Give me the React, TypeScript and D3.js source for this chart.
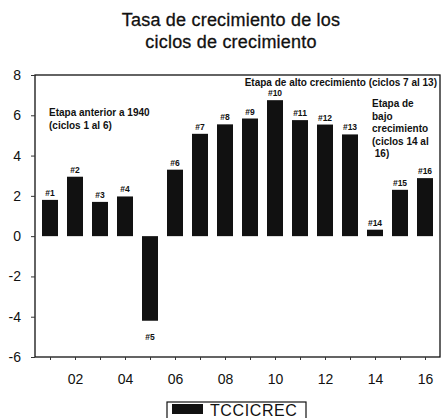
import { useRef, useEffect } from 'react';
import * as d3 from 'd3';

const FONT = '"Liberation Sans", Arial, Helvetica, sans-serif';
const BAR_COLOR = '#111';

const cycles = [1, 2, 3, 4, 5, 6, 7, 8, 9, 10, 11, 12, 13, 14, 15, 16];
const values = [1.8, 2.95, 1.7, 1.97, -4.2, 3.3, 5.08, 5.55, 5.84, 6.75, 5.76, 5.54, 5.05, 0.32, 2.3, 2.88];
const xTicks = [2, 4, 6, 8, 10, 12, 14, 16];
const yTicks = [-6, -4, -2, 0, 2, 4, 6, 8];
const seriesName = 'TCCICREC';

const titleLines = ['Tasa de crecimiento de los', 'ciclos de crecimiento'];
const noteEarly = ['Etapa anterior a 1940', '(ciclos 1 al 6)'];
const noteHigh = ['Etapa de alto crecimiento (ciclos 7 al 13)'];
const noteLow = ['Etapa de', 'bajo', 'crecimiento', '(ciclos 14 al', ' 16)'];

const W = 442;
const H = 418;

const Chart = () => {
  const svgRef = useRef(null);

  useEffect(() => {
    const svg = d3.select(svgRef.current);
    svg.selectAll('*').remove();

    const left = 35;
    const right = 440;
    const top = 75;
    const bottom = 357;

    const x = d3.scaleLinear().domain([0.4, 16.6]).range([left, right]);
    const y = d3.scaleLinear().domain([-6, 8]).range([bottom, top]);
    const barW = x(0.64) - x(0);

    // title
    svg
      .selectAll('text.title')
      .data(titleLines)
      .join('text')
      .attr('x', 231)
      .attr('y', (d, i) => 26 + i * 22)
      .attr('text-anchor', 'middle')
      .attr('font-family', FONT)
      .attr('font-size', 18)
      .attr('letter-spacing', 0.2)
      .attr('fill', '#111')
      .attr('stroke', '#111')
      .attr('stroke-width', 0.3)
      .text((d) => d);

    // bars
    svg
      .selectAll('rect.bar')
      .data(values)
      .join('rect')
      .attr('x', (d, i) => x(cycles[i]) - barW / 2)
      .attr('y', (d) => y(Math.max(0, d)))
      .attr('width', barW)
      .attr('height', (d) => Math.abs(y(d) - y(0)))
      .attr('fill', BAR_COLOR);

    // bar labels
    svg
      .selectAll('text.lbl')
      .data(values)
      .join('text')
      .attr('x', (d, i) => x(cycles[i]))
      .attr('y', (d) => (d >= 0 ? y(d) - 4 : y(d) + 19))
      .attr('text-anchor', 'middle')
      .attr('font-family', FONT)
      .attr('font-size', 8.5)
      .attr('font-weight', 'bold')
      .attr('fill', '#111')
      .text((d, i) => `#${cycles[i]}`);

    // frame
    svg
      .append('rect')
      .attr('x', left)
      .attr('y', top)
      .attr('width', right - left)
      .attr('height', bottom - top)
      .attr('fill', 'none')
      .attr('stroke', '#111')
      .attr('stroke-width', 1.3);

    // y axis
    const yAxis = svg
      .append('g')
      .attr('transform', `translate(${left},0)`)
      .call(
        d3
          .axisLeft(y)
          .tickValues(yTicks)
          .tickSize(4)
          .tickPadding(10)
          .tickFormat((d) => String(d))
      );
    yAxis.select('.domain').remove();
    yAxis.selectAll('line').attr('stroke', '#333');
    yAxis.selectAll('text').attr('font-family', FONT).attr('font-size', 14).attr('fill', '#111');

    // x axis
    const xAxis = svg
      .append('g')
      .attr('transform', `translate(0,${bottom})`)
      .call(
        d3
          .axisBottom(x)
          .tickValues(cycles)
          .tickSize(3)
          .tickPadding(14)
          .tickFormat((d) => (xTicks.includes(d) ? d3.format('02d')(d) : ''))
      );
    xAxis.select('.domain').remove();
    xAxis.selectAll('line').attr('stroke', '#333');
    xAxis.selectAll('text').attr('font-family', FONT).attr('font-size', 14).attr('fill', '#111');

    // notes
    const note = (lines, x0, y0, lh, anchor) => {
      svg
        .append('g')
        .selectAll('text')
        .data(lines)
        .join('text')
        .attr('x', x0)
        .attr('y', (d, i) => y0 + i * lh)
        .attr('text-anchor', anchor)
        .attr('font-family', FONT)
        .attr('font-size', 10)
        .attr('font-weight', 'bold')
        .attr('fill', '#111')
        .style('white-space', 'pre')
        .text((d) => d);
    };
    note(noteEarly, 49, 116, 13, 'start');
    note(noteHigh, 437, 86, 12, 'end');
    note(noteLow, 372, 107, 12.5, 'start');

    // legend
    const lg = svg.append('g');
    lg.append('rect')
      .attr('x', 167)
      .attr('y', 402)
      .attr('width', 139)
      .attr('height', 24)
      .attr('fill', 'white')
      .attr('stroke', '#111')
      .attr('stroke-width', 1.2);
    lg.append('rect').attr('x', 172).attr('y', 404).attr('width', 31).attr('height', 10).attr('fill', BAR_COLOR);
    lg.append('text')
      .attr('x', 210)
      .attr('y', 416)
      .attr('font-family', FONT)
      .attr('font-size', 16)
      .attr('letter-spacing', 0.6)
      .attr('fill', '#111')
      .text(seriesName);
  }, []);

  return <svg ref={svgRef} width={W} height={H} style={{ position: 'absolute', left: 0, top: 0, background: 'white' }} />;
};

export default function App() {
  return <Chart />;
}
